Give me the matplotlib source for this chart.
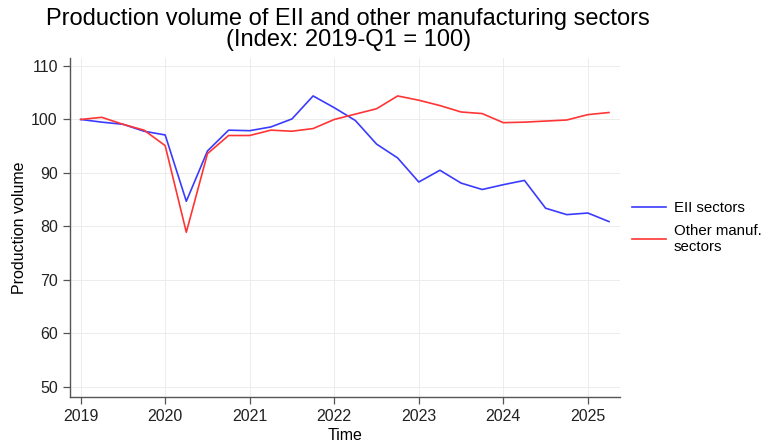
import matplotlib.pyplot as plt
import numpy as np

plt.rcParams['font.family'] = ['Liberation Sans', 'DejaVu Sans']

# --- data: quarterly index, 2019-Q1 .. 2025-Q2 ---
years = np.repeat(np.arange(2019, 2026), 4)[:26]
quarters = np.tile([1, 2, 3, 4], 7)[:26]
time = years + (quarters - 1) / 4

eii = [100.0, 99.5, 99.1, 97.8,
       97.1, 84.7, 94.1, 98.0,
       97.9, 98.6, 100.1, 104.4,
       102.2, 99.8, 95.4, 92.8,
       88.3, 90.5, 88.1, 86.9,
       87.8, 88.6, 83.4, 82.2,
       82.5, 80.9]
other = [100.0, 100.4, 99.1, 98.0,
         95.1, 78.9, 93.6, 97.0,
         97.0, 98.0, 97.8, 98.3,
         100.0, 101.0, 102.0, 104.4,
         103.6, 102.6, 101.4, 101.1,
         99.4, 99.5, 99.7, 99.9,
         100.9, 101.3]

xticks = list(range(2019, 2026))
yticks = list(range(50, 111, 10))

# --- plot ---
fig = plt.figure(figsize=(7.74, 4.46), dpi=100)
ax = fig.add_axes([0.090, 0.110, 0.711, 0.760])

ax.plot(time, eii, color='#3b3bff', lw=1.2, label='EII sectors')
ax.plot(time, other, color='#ff3535', lw=1.2, label='Other manuf.\nsectors')

ax.set_xlim(2018.87, 2025.38)
ax.set_ylim(48.1, 111.5)
ax.set_xticks(xticks)
ax.set_yticks(yticks)

ax.grid(True, color='#ececec', lw=0.7)
ax.set_axisbelow(True)
for s in ['top', 'right']:
    ax.spines[s].set_visible(False)
for s in ['left', 'bottom']:
    ax.spines[s].set_color('#555555')
    ax.spines[s].set_linewidth(1.0)
ax.tick_params(axis='both', direction='out', length=5, width=0.9,
               color='#555555', labelsize=11.5, labelcolor='#222222')

ax.set_xlabel('Time', fontsize=11.5, labelpad=3)
ax.set_ylabel('Production volume', fontsize=11.5, labelpad=3)

fig.suptitle('Production volume of EII and other manufacturing sectors\n(Index: 2019-Q1 = 100)',
             x=0.450, y=0.983, fontsize=17, linespacing=0.95)

ax.legend(loc='center left', bbox_to_anchor=(1.0, 0.50), frameon=False,
          fontsize=10.8, handlelength=2.3, handletextpad=0.5, labelspacing=0.6,
          borderaxespad=0.4)

fig.savefig('out.png', dpi=100, facecolor='white')
